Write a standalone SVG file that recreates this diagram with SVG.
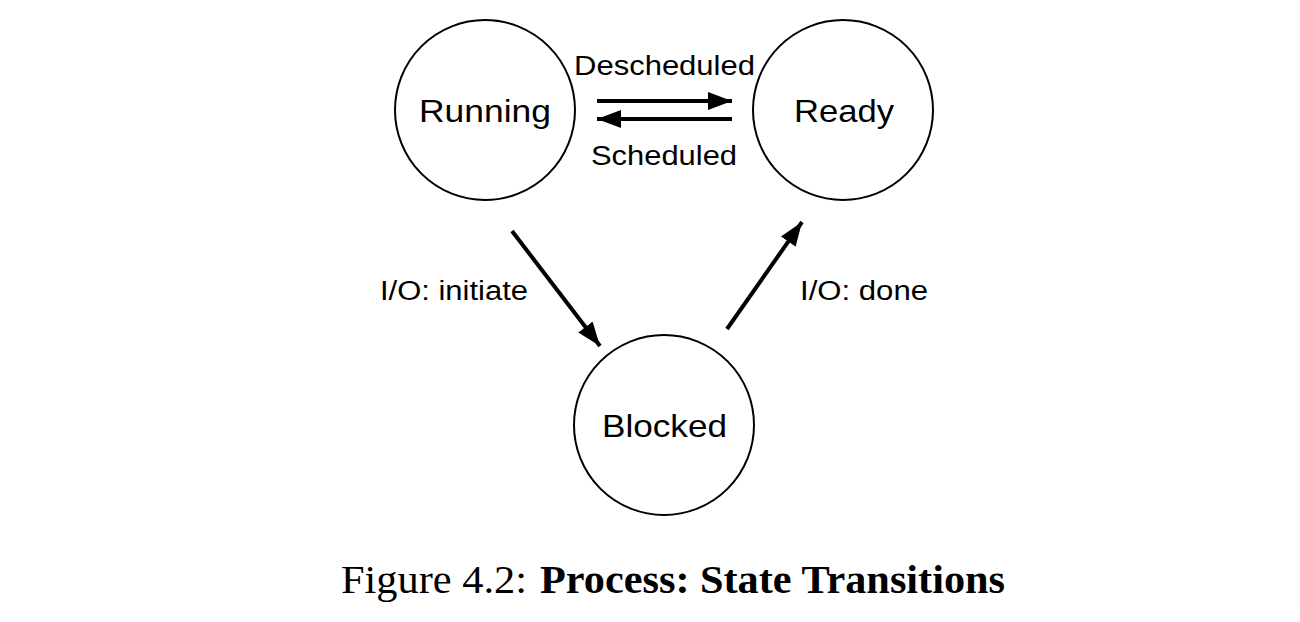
<svg xmlns="http://www.w3.org/2000/svg" width="1300" height="622" viewBox="0 0 1300 622">
  <style>
    .state { fill: #fff; stroke: #000; stroke-width: 2; }
    .name { font-family: "Liberation Sans", Arial, sans-serif; font-size: 32px; fill: #000; }
    .lbl { font-family: "Liberation Sans", Arial, sans-serif; font-size: 27px; fill: #000; }
    .edge { stroke: #000; stroke-width: 4; fill: none; marker-end: url(#head); }
    .cap { font-family: "Liberation Serif", "Times New Roman", serif; font-size: 40px; fill: #000; }
  </style>
  <defs>
    <marker id="head" markerUnits="userSpaceOnUse" markerWidth="26" markerHeight="18" refX="24" refY="9" orient="auto">
      <path d="M0,0 L24,9 L0,18 Z" fill="#000"/>
    </marker>
  </defs>
  <rect width="1300" height="622" fill="#fff"/>

  <g id="running">
    <circle class="state" cx="485" cy="110" r="90"/>
    <text class="name" x="419" y="122" textLength="132" lengthAdjust="spacingAndGlyphs">Running</text>
  </g>
  <g id="ready">
    <circle class="state" cx="843" cy="110" r="90"/>
    <text class="name" x="794" y="122" textLength="100" lengthAdjust="spacingAndGlyphs">Ready</text>
  </g>
  <g id="blocked">
    <circle class="state" cx="664" cy="425" r="90"/>
    <text class="name" x="602" y="437" textLength="125" lengthAdjust="spacingAndGlyphs">Blocked</text>
  </g>

  <g id="connectors">
    <line class="edge" x1="597" y1="101" x2="732" y2="101"/>
    <line class="edge" x1="732" y1="119" x2="597" y2="119"/>
    <line class="edge" x1="512" y1="231" x2="600" y2="346"/>
    <line class="edge" x1="727" y1="329" x2="802" y2="222"/>
  </g>

  <g id="labels">
    <text class="lbl" x="574" y="75" textLength="181" lengthAdjust="spacingAndGlyphs">Descheduled</text>
    <text class="lbl" x="591" y="165" textLength="146" lengthAdjust="spacingAndGlyphs">Scheduled</text>
    <text class="lbl" x="380" y="300" textLength="148" lengthAdjust="spacingAndGlyphs">I/O: initiate</text>
    <text class="lbl" x="800" y="300" textLength="128" lengthAdjust="spacingAndGlyphs">I/O: done</text>
  </g>

  <g id="caption">
    <text class="cap" x="341" y="593" textLength="186" lengthAdjust="spacingAndGlyphs">Figure 4.2:</text>
    <text class="cap" x="540" y="593" font-weight="bold" textLength="465" lengthAdjust="spacingAndGlyphs">Process: State Transitions</text>
  </g>
</svg>
